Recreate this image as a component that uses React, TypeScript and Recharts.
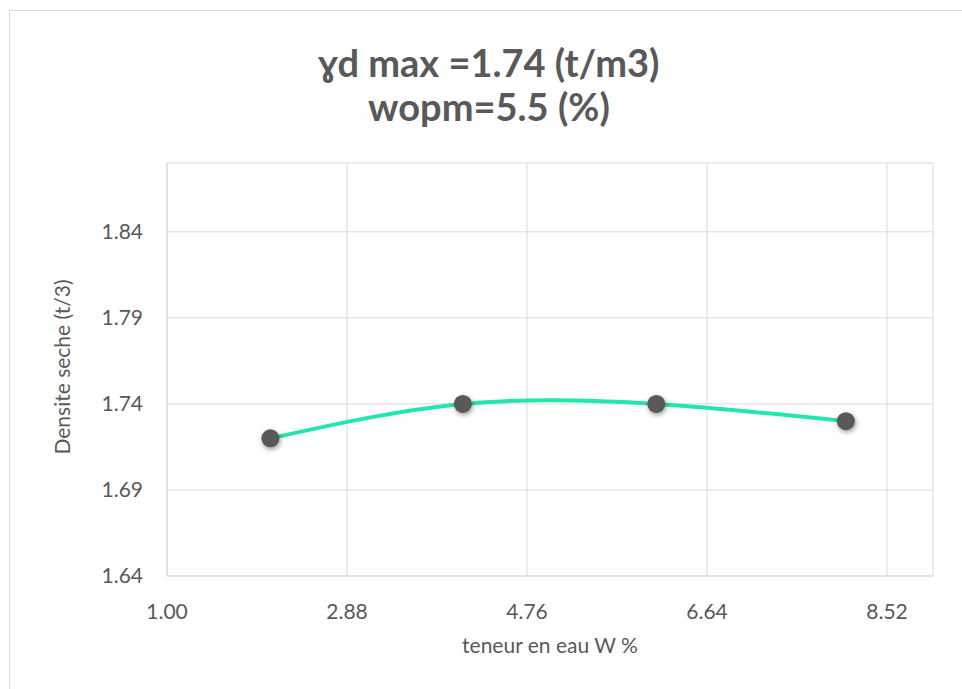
import React from 'react';
import { LineChart, Line, XAxis, YAxis, CartesianGrid } from 'recharts';

const waterContent = [2.08, 4.09, 6.11, 8.09];
const dryDensity = [1.72, 1.74, 1.74, 1.73];
const xTicks = [1.0, 2.88, 4.76, 6.64, 8.52];
const yTicks = [1.64, 1.69, 1.74, 1.79, 1.84];
const titleLines = ['ɣd max =1.74 (t/m3)', 'wopm=5.5 (%)'];
const xTitle = 'teneur en eau W %';
const yTitle = 'Densite seche (t/3)';

const data = waterContent.map((w, i) => ({ w, d: dryDensity[i] }));

const FONT = 'Lato, "Open Sans", sans-serif';
const TXT = '#595959';
const GRID = '#d9d9d9';

const Marker = (props: any) => {
  const { cx, cy } = props;
  if (cx == null || cy == null) return null;
  return (
    <circle
      cx={cx}
      cy={cy}
      r={9}
      fill="#595959"
      style={{ filter: 'drop-shadow(1px 2px 2.5px rgba(0,0,0,0.4))' }}
    />
  );
};

export default function App() {
  return (
    <div style={{ position: 'absolute', left: 0, top: 0, width: 962, height: 689, overflow: 'hidden', background: '#fff', fontFamily: FONT }}>
      <div style={{ position: 'absolute', left: 9, top: 10, width: 2000, height: 2000, borderLeft: `1px solid ${GRID}`, borderTop: `1px solid ${GRID}` }} />
      <div style={{ position: 'absolute', left: 189, top: 40, width: 600, textAlign: 'center', color: TXT, fontWeight: 700, fontSize: 38, lineHeight: '44px' }}>
        {titleLines.map((t) => (
          <div key={t}>{t}</div>
        ))}
      </div>
      <div style={{ position: 'absolute', left: 0, top: 0 }}>
        <LineChart width={962} height={689} data={data} margin={{ top: 163, right: 29, left: 87, bottom: 53 }}>
          <CartesianGrid stroke={GRID} strokeWidth={1} />
          <XAxis
            dataKey="w"
            type="number"
            domain={[1, 9]}
            ticks={xTicks}
            tickFormatter={(v: number) => v.toFixed(2)}
            height={60}
            stroke={GRID}
            tickLine={false}
            tickSize={0}
            tickMargin={28}
            tick={{ fill: TXT, fontSize: 21, fontFamily: FONT }}
            label={{ value: xTitle, position: 'bottom', offset: 2, fill: TXT, fontSize: 21, fontFamily: FONT }}
          />
          <YAxis
            type="number"
            domain={[1.64, 1.88]}
            ticks={yTicks}
            tickFormatter={(v: number) => v.toFixed(2)}
            width={80}
            stroke={GRID}
            tickLine={false}
            tickSize={0}
            tickMargin={24}
            tick={{ fill: TXT, fontSize: 21, fontFamily: FONT }}
            label={{
              content: () => (
                <text x={61} y={367} transform="rotate(-90 61 367)" textAnchor="middle" dominantBaseline="central" fill={TXT} fontSize={21} fontFamily={FONT}>
                  {yTitle}
                </text>
              ),
            }}
          />
          <Line dataKey="d" stroke="none" dot={<Marker />} activeDot={false} isAnimationActive={false} />
          <Line dataKey="d" type="natural" stroke="#22E5B2" strokeWidth={4} dot={false} activeDot={false} isAnimationActive={false} />
        </LineChart>
      </div>
    </div>
  );
}
